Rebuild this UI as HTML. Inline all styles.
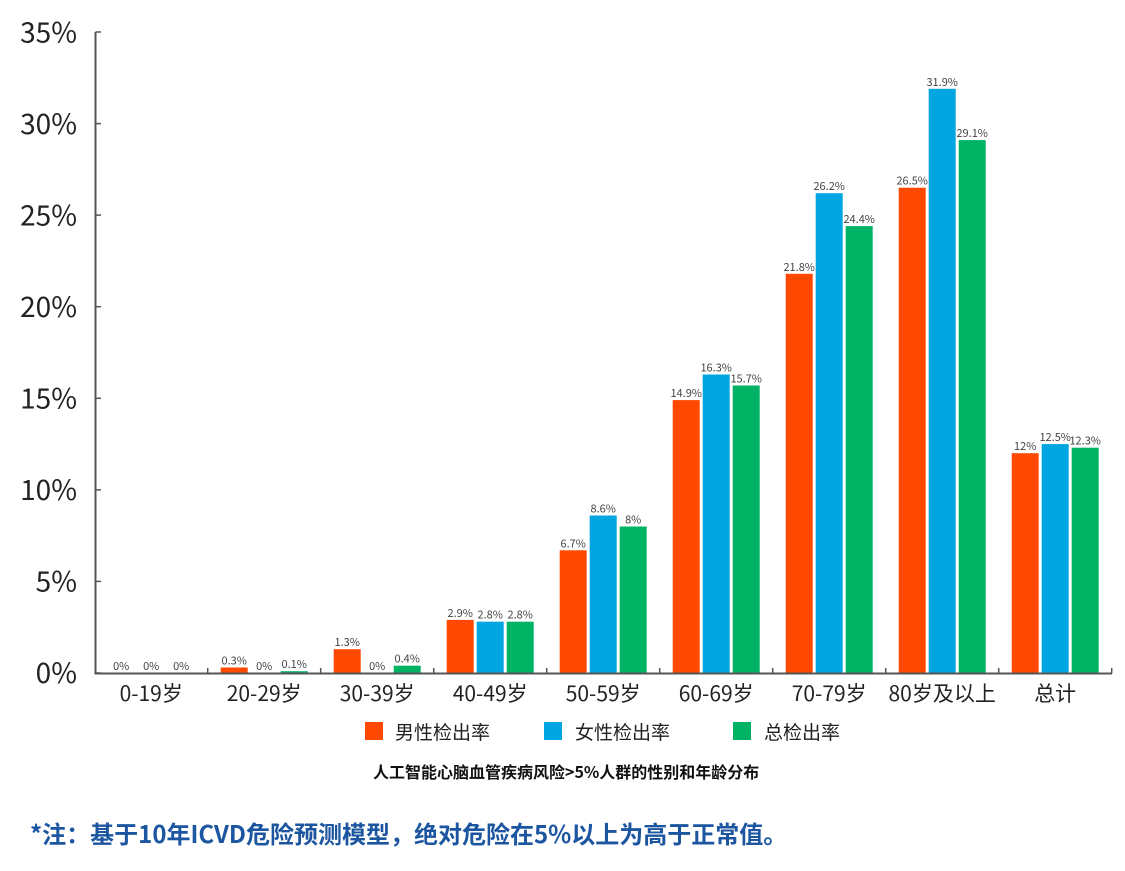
<!DOCTYPE html>
<html><head><meta charset="utf-8"><style>
html,body{margin:0;padding:0;background:#fff;}
svg{display:block;}
text{font-family:"Noto Sans CJK SC","Liberation Sans",sans-serif;}
</style></head><body>
<svg width="1125" height="871" viewBox="0 0 1125 871" xmlns="http://www.w3.org/2000/svg">
<rect width="1125" height="871" fill="#fff"/>
<g id="bars"></g>
<!-- y axis labels -->
<g font-size="28" fill="#222" text-anchor="end">
<text x="77" y="42.5">35%</text>
<text x="77" y="134">30%</text>
<text x="77" y="225.5">25%</text>
<text x="77" y="317">20%</text>
<text x="77" y="408.5">15%</text>
<text x="77" y="500">10%</text>
<text x="77" y="591.5">5%</text>
<text x="77" y="683">0%</text>
</g>
<script>
(function(){
var ns="http://www.w3.org/2000/svg";
var g=document.getElementById('bars');
var data=[[0,0,0],[0.3,0,0.1],[1.3,0,0.4],[2.9,2.8,2.8],[6.7,8.6,8],[14.9,16.3,15.7],[21.8,26.2,24.4],[26.5,31.9,29.1],[12,12.5,12.3]];
var cats=["0-19岁","20-29岁","30-39岁","40-49岁","50-59岁","60-69岁","70-79岁","80岁及以上","总计"];
var cols=["#FF4800","#00A6E2","#00B264"];
var k=18.314, y0=673;
function el(n,a,t){var e=document.createElementNS(ns,n);for(var i in a)e.setAttribute(i,a[i]);if(t!==undefined)e.textContent=t;return e;}
for(var i=0;i<9;i++){
 var c=151.2+113*i;
 for(var j=0;j<3;j++){
  var v=data[i][j];var h=v*k;var x=c+(j-1)*30-13.5;
  if(h>0) g.appendChild(el('rect',{x:x.toFixed(1),y:(y0-h).toFixed(1),width:27,height:h.toFixed(1),fill:cols[j]}));
  g.appendChild(el('text',{x:(x+13.5).toFixed(1),y:(y0-h-3).toFixed(1),'font-size':11,fill:'#444','text-anchor':'middle'},v+'%'));
 }
 g.appendChild(el('text',{x:c.toFixed(1),y:701,'font-size':21,fill:'#222','text-anchor':'middle'},cats[i]));
}
g.appendChild(el('line',{x1:95.5,y1:32,x2:95.5,y2:674.5,stroke:'#555','stroke-width':2}));
g.appendChild(el('line',{x1:94.5,y1:673.5,x2:1112,y2:673.5,stroke:'#555','stroke-width':2}));
for(var t=0;t<=7;t++){var yy=y0-t*5*k;g.appendChild(el('line',{x1:95.5,y1:yy.toFixed(1),x2:101,y2:yy.toFixed(1),stroke:'#555','stroke-width':1.5}));}
for(var b=1;b<=9;b++){var xx=94.7+113*b;g.appendChild(el('line',{x1:xx.toFixed(1),y1:668,x2:xx.toFixed(1),y2:673.5,stroke:'#555','stroke-width':1.5}));}
})();
</script>
<!-- legend -->
<rect x="365" y="722" width="18" height="18" fill="#FF4800"/>
<text x="395" y="739" font-size="19" fill="#222">男性检出率</text>
<rect x="544" y="722" width="18" height="18" fill="#00A6E2"/>
<text x="575" y="739" font-size="19" fill="#222">女性检出率</text>
<rect x="733" y="722" width="18" height="18" fill="#00B264"/>
<text x="764" y="739" font-size="19" fill="#222">总检出率</text>
<text x="373" y="778" font-size="16" font-weight="bold" fill="#111">人工智能心脑血管疾病风险&gt;5%人群的性别和年龄分布</text>
<text x="30" y="843" font-size="24" font-weight="bold" fill="#1C55A0">*注：基于10年ICVD危险预测模型，绝对危险在5%以上为高于正常值。</text>
</svg>
</body></html>
